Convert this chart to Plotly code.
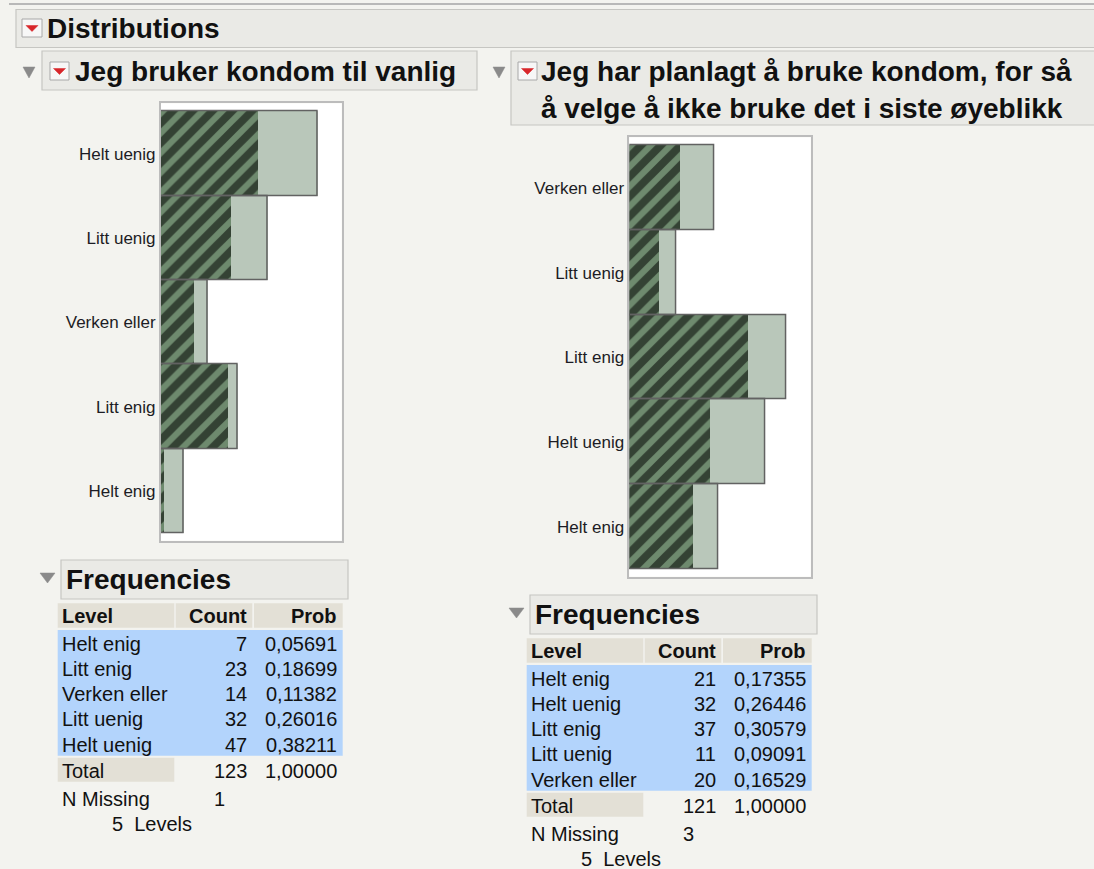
import plotly.graph_objects as go

# ---------------- data ----------------
left_title = "Jeg bruker kondom til vanlig"
left_levels = ["Helt enig", "Litt enig", "Verken eller", "Litt uenig", "Helt uenig"]
left_counts = [7, 23, 14, 32, 47]
left_selected = [1, 20, 10, 21, 29]
left_probs = ["0,05691", "0,18699", "0,11382", "0,26016", "0,38211"]
left_total = 123
left_total_prob = "1,00000"
left_missing = 1

right_title = ["Jeg har planlagt å bruke kondom, for så", "å velge å ikke bruke det i siste øyeblikk"]
right_levels = ["Helt enig", "Helt uenig", "Litt enig", "Litt uenig", "Verken eller"]
right_counts = [21, 32, 37, 11, 20]
right_selected = [15, 19, 28, 7, 12]
right_probs = ["0,17355", "0,26446", "0,30579", "0,09091", "0,16529"]
right_total = 121
right_total_prob = "1,00000"
right_missing = 3

# ---------------- styling ----------------
W, H = 1094, 869
FONT = "Liberation Sans, Arial, Helvetica, sans-serif"
BG = "#f3f3ef"
BOX_BG = "#eaeae6"
BOX_LINE = "#c6c6c2"
BEIGE = "#e3e0d6"
BLUE = "#b3d4fc"
LIGHT = "#b9c7ba"
MID = "#6e8a6e"
DARK = "#344234"
OUTLINE = "#626262"


def px(x):
    return x / W


def py(y):
    return 1 - y / H


fig = go.Figure()


def rect(x0, y0, x1, y1, fill, line=None, lw=1):
    fig.add_shape(type="rect", xref="paper", yref="paper",
                  x0=px(x0), x1=px(x1), y0=py(y1), y1=py(y0),
                  fillcolor=fill, line=dict(color=line or fill, width=lw if line else 0),
                  layer="below")


def tri(x0, y0, x1, y1, color):
    xm = (x0 + x1) / 2
    path = f"M {px(x0)},{py(y0)} L {px(x1)},{py(y0)} L {px(xm)},{py(y1)} Z"
    fig.add_shape(type="path", xref="paper", yref="paper", path=path,
                  fillcolor=color, line=dict(color=color, width=0.5), layer="above")


def red_icon(x0, y0, x1, y1):
    fig.add_shape(type="rect", xref="paper", yref="paper",
                  x0=px(x0), x1=px(x1), y0=py(y1), y1=py(y0),
                  fillcolor="#f7f7f7", line=dict(color="#a8a8a8", width=1), layer="above")
    cx = (x0 + x1) / 2
    tri(cx - 6, y0 + 6.5, cx + 6, y0 + 12.5, "#d8262b")


def txt(x, y, s, size=20, bold=False, anchor="left", color="#111111"):
    if bold:
        s = f"<b>{s}</b>"
    fig.add_annotation(x=px(x), y=py(y), xref="paper", yref="paper", text=s,
                       showarrow=False, xanchor=anchor, yanchor="middle",
                       font=dict(family=FONT, size=size, color=color))


# ---------------- page chrome ----------------
fig.add_shape(type="line", xref="paper", yref="paper", x0=px(9), x1=px(1094), y0=py(4), y1=py(4),
              line=dict(color="#b8b8b8", width=2))
rect(16, 9.5, 1100, 47.5, BOX_BG, BOX_LINE, 1.2)
red_icon(22, 19, 42, 37)
txt(45, 28.5, "Distributions", 28, True)

# left header
tri(23, 67, 35, 78, "#8a8a8a")
rect(42, 51, 477, 90, BOX_BG, BOX_LINE, 1.2)
red_icon(50, 62, 69, 80)
txt(73, 71, left_title, 28, True)

# right header
tri(493, 67, 505, 78, "#8a8a8a")
rect(511, 51, 1100, 125, BOX_BG, BOX_LINE, 1.2)
red_icon(518, 62, 537, 80)
txt(539, 72, right_title[0], 28, True)
txt(539, 108, right_title[1], 28, True)


# ---------------- bar charts ----------------
def add_chart(levels, counts, selected, xa, ya, frame):
    fx0, fy0, fx1, fy1 = frame
    fig.add_trace(go.Bar(y=levels, x=counts, orientation="h", xaxis=xa, yaxis=ya,
                         marker=dict(color=LIGHT, line=dict(width=0)),
                         hoverinfo="skip", showlegend=False))
    fig.add_trace(go.Bar(y=levels, x=selected, orientation="h", xaxis=xa, yaxis=ya,
                         marker=dict(color=MID, line=dict(width=0),
                                     pattern=dict(shape="/", bgcolor=MID, fgcolor=DARK,
                                                  size=14, solidity=0.56, fillmode="replace")),
                         hoverinfo="skip", showlegend=False))
    fig.add_trace(go.Bar(y=levels, x=counts, orientation="h", xaxis=xa, yaxis=ya,
                         marker=dict(color="rgba(0,0,0,0)", line=dict(color=OUTLINE, width=1.5)),
                         hoverinfo="skip", showlegend=False))
    xkey = "xaxis" + xa[1:]
    ykey = "yaxis" + ya[1:]
    fig.update_layout(**{
        xkey: dict(domain=[px(fx0), px(fx1)], anchor=ya, range=[0, max(counts) * 1.153],
                   showticklabels=False, ticks="", showgrid=False, zeroline=False,
                   showline=True, mirror=True, linecolor="#bcbcbc", linewidth=1.5),
        ykey: dict(domain=[py(fy1), py(fy0)], anchor=xa, type="category",
                   categoryorder="array", categoryarray=levels, range=[-0.59, 4.6],
                   ticks="", showgrid=False, zeroline=False,
                   showline=True, mirror=True, linecolor="#bcbcbc", linewidth=1.5,
                   tickfont=dict(family=FONT, size=17, color="#1c1c24")),
    })


add_chart(left_levels, left_counts, left_selected, "x", "y", (160.7, 103.3, 341.7, 540.7))
add_chart(right_levels, right_counts, right_selected, "x2", "y2", (629.3, 137.3, 810.7, 576.7))


# ---------------- frequency tables ----------------
def add_table(dx, dy, levels, counts, probs, total, total_prob, missing):
    # Frequencies header
    tri(40 + dx, 573 + dy, 55 + dx, 583 + dy, "#8a8a8a")
    rect(61 + dx, 560 + dy, 348 + dx, 599 + dy, BOX_BG, BOX_LINE, 1.2)
    txt(64 + dx, 579.5 + dy, "Frequencies", 28, True)
    cols = [(57.7, 174.3), (175.7, 252.3), (254.0, 342.7)]
    hy0, hy1 = 603.3, 627.7
    for c0, c1 in cols:
        rect(c0 + dx, hy0 + dy, c1 + dx, hy1 + dy, BEIGE)
    hc = (hy0 + hy1) / 2 + dy
    txt(60 + dx, hc, "Level", 20, True)
    txt(249 + dx, hc, "Count", 20, True, "right")
    txt(338.5 + dx, hc, "Prob", 20, True, "right")
    by0, by1 = 630.0, 755.7
    rect(57.7 + dx, by0 + dy, 342.7 + dx, by1 + dy, BLUE)
    rh = (by1 - by0) / len(levels)
    for i, (lv, ct, pr) in enumerate(zip(levels, counts, probs)):
        yc = by0 + rh * (i + 0.5) + dy + 1.5
        txt(60 + dx, yc, lv, 20)
        txt(249 + dx, yc, str(ct), 20, anchor="right")
        txt(338.5 + dx, yc, pr, 20, anchor="right")
    rect(57.7 + dx, 757.7 + dy, 174.3 + dx, 781.7 + dy, BEIGE)
    txt(60 + dx, 770.5 + dy, "Total", 20)
    txt(249 + dx, 770.5 + dy, str(total), 20, anchor="right")
    txt(338.5 + dx, 770.5 + dy, total_prob, 20, anchor="right")
    txt(60 + dx, 798.5 + dy, "N Missing", 20)
    txt(212 + dx, 798.5 + dy, str(missing), 20)
    txt(110 + dx, 823.5 + dy, f"{len(levels)}  Levels", 20)


add_table(0, 0, left_levels, left_counts, left_probs, left_total, left_total_prob, left_missing)
add_table(469, 35, right_levels, right_counts, right_probs, right_total, right_total_prob, right_missing)

fig.update_layout(
    width=W, height=H, margin=dict(l=0, r=0, t=0, b=0),
    paper_bgcolor=BG, plot_bgcolor="white",
    barmode="overlay", bargap=0, showlegend=False,
    font=dict(family=FONT),
)

fig.write_html("out.html", config={"displayModeBar": False},
               post_script="document.body.style.margin='0';document.body.style.overflow='hidden';")
